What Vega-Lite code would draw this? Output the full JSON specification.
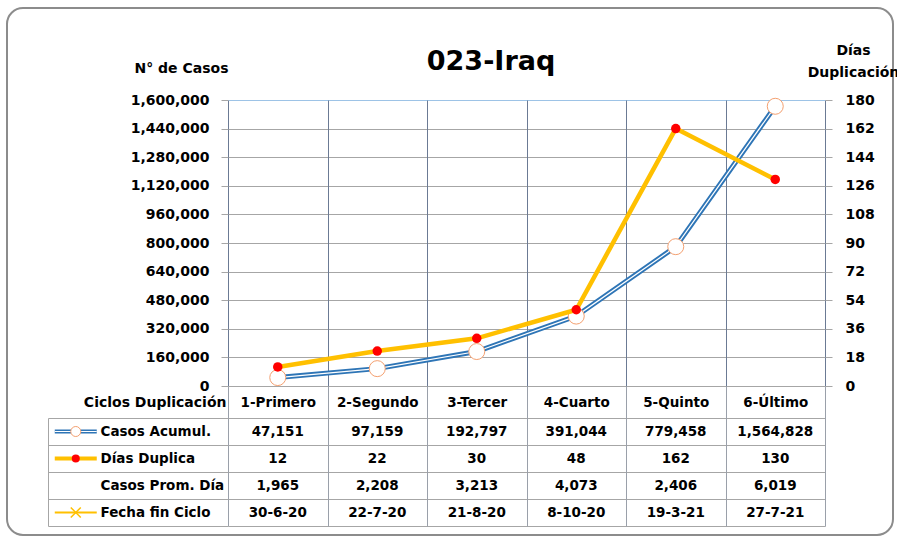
{
  "$schema": "https://vega.github.io/schema/vega-lite/v6.json",
  "width": 886,
  "height": 527,
  "autosize": "none",
  "padding": {"left": 7, "top": 8, "right": 4, "bottom": 4},
  "background": "#ffffff",
  "config": {
    "view": {"stroke": "#8c8c8c", "strokeWidth": 2, "cornerRadius": 16},
    "font": "DejaVu Sans",
    "axis": {
      "labelFont": "DejaVu Sans", "labelFontWeight": "bold", "labelFontSize": 14, "labelColor": "#000000",
      "titleFont": "DejaVu Sans", "titleFontWeight": "bold", "titleFontSize": 14, "titleColor": "#000000"
    }
  },
  "title": {
    "text": "023-Iraq", "font": "DejaVu Sans", "fontSize": 27, "fontWeight": "bold", "color": "#000000",
    "anchor": "middle", "frame": "group", "offset": -96, "baseline": "alphabetic", "dx": 41
  },
  "datasets": {
    "ciclos": [
      {"ciclo": "1-Primero", "casos": 47151, "dias": 12},
      {"ciclo": "2-Segundo", "casos": 97159, "dias": 22},
      {"ciclo": "3-Tercer", "casos": 192797, "dias": 30},
      {"ciclo": "4-Cuarto", "casos": 391044, "dias": 48},
      {"ciclo": "5-Quinto", "casos": 779458, "dias": 162},
      {"ciclo": "6-Último", "casos": 1564828, "dias": 130}
    ],
    "tabla": [
      {"ciclo": "1-Primero", "fila": "Casos Acumul.", "texto": "47,151"},
      {"ciclo": "2-Segundo", "fila": "Casos Acumul.", "texto": "97,159"},
      {"ciclo": "3-Tercer", "fila": "Casos Acumul.", "texto": "192,797"},
      {"ciclo": "4-Cuarto", "fila": "Casos Acumul.", "texto": "391,044"},
      {"ciclo": "5-Quinto", "fila": "Casos Acumul.", "texto": "779,458"},
      {"ciclo": "6-Último", "fila": "Casos Acumul.", "texto": "1,564,828"},
      {"ciclo": "1-Primero", "fila": "Días Duplica", "texto": "12"},
      {"ciclo": "2-Segundo", "fila": "Días Duplica", "texto": "22"},
      {"ciclo": "3-Tercer", "fila": "Días Duplica", "texto": "30"},
      {"ciclo": "4-Cuarto", "fila": "Días Duplica", "texto": "48"},
      {"ciclo": "5-Quinto", "fila": "Días Duplica", "texto": "162"},
      {"ciclo": "6-Último", "fila": "Días Duplica", "texto": "130"},
      {"ciclo": "1-Primero", "fila": "Casos Prom. Día", "texto": "1,965"},
      {"ciclo": "2-Segundo", "fila": "Casos Prom. Día", "texto": "2,208"},
      {"ciclo": "3-Tercer", "fila": "Casos Prom. Día", "texto": "3,213"},
      {"ciclo": "4-Cuarto", "fila": "Casos Prom. Día", "texto": "4,073"},
      {"ciclo": "5-Quinto", "fila": "Casos Prom. Día", "texto": "2,406"},
      {"ciclo": "6-Último", "fila": "Casos Prom. Día", "texto": "6,019"},
      {"ciclo": "1-Primero", "fila": "Fecha fin Ciclo", "texto": "30-6-20"},
      {"ciclo": "2-Segundo", "fila": "Fecha fin Ciclo", "texto": "22-7-20"},
      {"ciclo": "3-Tercer", "fila": "Fecha fin Ciclo", "texto": "21-8-20"},
      {"ciclo": "4-Cuarto", "fila": "Fecha fin Ciclo", "texto": "8-10-20"},
      {"ciclo": "5-Quinto", "fila": "Fecha fin Ciclo", "texto": "19-3-21"},
      {"ciclo": "6-Último", "fila": "Fecha fin Ciclo", "texto": "27-7-21"}
    ],
    "leyenda": [
      {"fila": "Casos Acumul.", "columna": "leyenda"},
      {"fila": "Días Duplica", "columna": "leyenda"},
      {"fila": "Fecha fin Ciclo", "columna": "leyenda"}
    ]
  },
  "resolve": {"scale": {"x": "independent", "y": "independent"}, "axis": {"x": "independent", "y": "independent"}},
  "layer": [
    {
      "resolve": {"scale": {"y": "independent"}, "axis": {"x": "independent", "y": "independent"}},
      "layer": [
        {
          "data": {"name": "ciclos"},
          "encoding": {
            "x": {
              "field": "ciclo", "type": "nominal", "sort": null,
              "scale": {"type": "band", "domain": ["1-Primero", "2-Segundo", "3-Tercer", "4-Cuarto", "5-Quinto", "6-Último"], "range": [221, 818], "paddingInner": 0, "paddingOuter": 0},
              "axis": {
                "orient": "bottom", "offset": -149, "title": "Ciclos Duplicación", "titleX": 219, "titleY": 16,
                "titleAlign": "right", "titleBaseline": "middle", "labelAngle": 0, "labelPadding": 302,
                "labelBaseline": "middle", "labelFontSize": 13.5, "ticks": true, "tickSize": -286,
                "tickColor": "#6b7a94", "tickWidth": 1, "tickBand": "extent", "domain": false, "grid": false
              }
            },
            "y": {
              "field": "casos", "type": "quantitative",
              "scale": {"domain": [0, 1600000], "range": [378, 92], "nice": false},
              "axis": {
                "orient": "left", "offset": -221,
                "values": [0, 160000, 320000, 480000, 640000, 800000, 960000, 1120000, 1280000, 1440000, 1600000],
                "labelExpr": "format(datum.value, ',')", "title": "N° de Casos", "titleAngle": 0, "titleX": -47, "titleY": 60,
                "titleAlign": "center", "titleBaseline": "middle", "tickSize": 7, "tickColor": "#a6a6a6",
                "labelPadding": 12, "grid": true,
                "gridColor": {"condition": {"test": "datum.value === 1600000", "value": "#9dc3e6"}, "value": "#a6a6a6"},
                "domain": false
              }
            }
          },
          "layer": [
            {"mark": {"type": "line", "color": "#2e75b6", "strokeWidth": 5}},
            {"mark": {"type": "line", "color": "#ffffff", "strokeWidth": 1.2}},
            {"mark": {"type": "point", "shape": "circle", "size": 256, "filled": true, "fill": "#ffffff", "stroke": "#f4a070", "strokeWidth": 1, "opacity": 1}}
          ]
        },
        {
          "data": {"name": "ciclos"},
          "encoding": {
            "x": {
              "field": "ciclo", "type": "nominal", "sort": null,
              "scale": {"type": "band", "domain": ["1-Primero", "2-Segundo", "3-Tercer", "4-Cuarto", "5-Quinto", "6-Último"], "range": [221, 818], "paddingInner": 0, "paddingOuter": 0},
              "axis": null
            },
            "y": {
              "field": "dias", "type": "quantitative",
              "scale": {"domain": [0, 180], "range": [378, 92], "nice": false},
              "axis": {
                "orient": "right", "offset": -68,
                "values": [0, 18, 36, 54, 72, 90, 108, 126, 144, 162, 180],
                "title": ["Días", "Duplicación"], "titleAngle": 0, "titleX": 28, "titleY": 42,
                "titleAlign": "center", "titleBaseline": "middle", "titleLineHeight": 22,
                "tickSize": 7, "tickColor": "#a6a6a6", "labelPadding": 13, "grid": false, "domain": false
              }
            }
          },
          "layer": [
            {"mark": {"type": "line", "color": "#ffc000", "strokeWidth": 4.5}},
            {"mark": {"type": "point", "shape": "circle", "size": 90, "filled": true, "color": "#ff0000", "opacity": 1}}
          ]
        },
        {
          "data": {"name": "tabla"},
          "mark": {"type": "text", "font": "DejaVu Sans", "fontWeight": "bold", "fontSize": 13.5, "color": "#000000"},
          "encoding": {
            "x": {
              "field": "ciclo", "type": "nominal", "sort": null,
              "scale": {"type": "band", "domain": ["1-Primero", "2-Segundo", "3-Tercer", "4-Cuarto", "5-Quinto", "6-Último"], "range": [221, 818], "paddingInner": 0, "paddingOuter": 0},
              "axis": null
            },
            "y": {
              "field": "fila", "type": "nominal", "sort": null,
              "scale": {"type": "band", "domain": ["Casos Acumul.", "Días Duplica", "Casos Prom. Día", "Fecha fin Ciclo"], "range": [410, 518], "paddingInner": 0, "paddingOuter": 0},
              "axis": {
                "orient": "left", "offset": -41, "title": null, "domain": true, "domainColor": "#a6a6a6",
                "ticks": true, "tickSize": -180, "tickColor": "#a6a6a6", "tickBand": "extent",
                "grid": true, "gridColor": "#a6a6a6", "labelAlign": "left", "labelPadding": 128,
                "labelFontSize": 13.5, "labelBaseline": "middle"
              }
            },
            "text": {"field": "texto"}
          }
        }
      ]
    },
    {
      "data": {"name": "leyenda"},
      "encoding": {
        "x": {
          "field": "columna", "type": "nominal", "bandPosition": 0.47,
          "scale": {"type": "band", "domain": ["leyenda", "etiqueta", "1-Primero", "2-Segundo", "3-Tercer", "4-Cuarto", "5-Quinto", "6-Último"], "range": [22, 818], "paddingInner": 0, "paddingOuter": 0},
          "axis": {
            "orient": "bottom", "offset": -149, "values": ["1-Primero", "2-Segundo", "3-Tercer", "4-Cuarto", "5-Quinto", "6-Último"],
            "tickBand": "extent", "grid": false, "labels": false, "ticks": true, "tickSize": 140,
            "tickColor": "#9aa0aa", "tickWidth": 1, "domain": false, "title": null
          }
        },
        "y": {
          "field": "fila", "type": "nominal",
          "scale": {"type": "band", "domain": ["Casos Acumul.", "Días Duplica", "Casos Prom. Día", "Fecha fin Ciclo"], "range": [378, 518], "paddingInner": 0, "paddingOuter": 0.5926, "align": 1},
          "axis": null
        }
      },
      "layer": [
        {"transform": [{"filter": "datum.fila === 'Casos Acumul.'"}], "mark": {"type": "point", "shape": "M-1,0L1,0", "size": 1764, "filled": false, "color": "#2e75b6", "strokeWidth": 4, "opacity": 1}},
        {"transform": [{"filter": "datum.fila === 'Casos Acumul.'"}], "mark": {"type": "point", "shape": "M-1,0L1,0", "size": 1764, "filled": false, "color": "#ffffff", "strokeWidth": 1, "opacity": 1}},
        {"transform": [{"filter": "datum.fila === 'Casos Acumul.'"}], "mark": {"type": "point", "shape": "circle", "size": 100, "filled": true, "fill": "#ffffff", "stroke": "#f4a070", "strokeWidth": 1, "opacity": 1}},
        {"transform": [{"filter": "datum.fila === 'Días Duplica'"}], "mark": {"type": "point", "shape": "M-1,0L1,0", "size": 1764, "filled": false, "color": "#ffc000", "strokeWidth": 4, "opacity": 1}},
        {"transform": [{"filter": "datum.fila === 'Días Duplica'"}], "mark": {"type": "point", "shape": "circle", "size": 64, "filled": true, "color": "#ff0000", "opacity": 1}},
        {"transform": [{"filter": "datum.fila === 'Fecha fin Ciclo'"}], "mark": {"type": "point", "shape": "M-1,0L1,0", "size": 1764, "filled": false, "color": "#ffc000", "strokeWidth": 2, "opacity": 1}},
        {"transform": [{"filter": "datum.fila === 'Fecha fin Ciclo'"}], "mark": {"type": "point", "shape": "M-1,-1L1,1M-1,1L1,-1", "size": 100, "filled": false, "color": "#ffc000", "strokeWidth": 1.5, "opacity": 1}}
      ]
    }
  ]
}
